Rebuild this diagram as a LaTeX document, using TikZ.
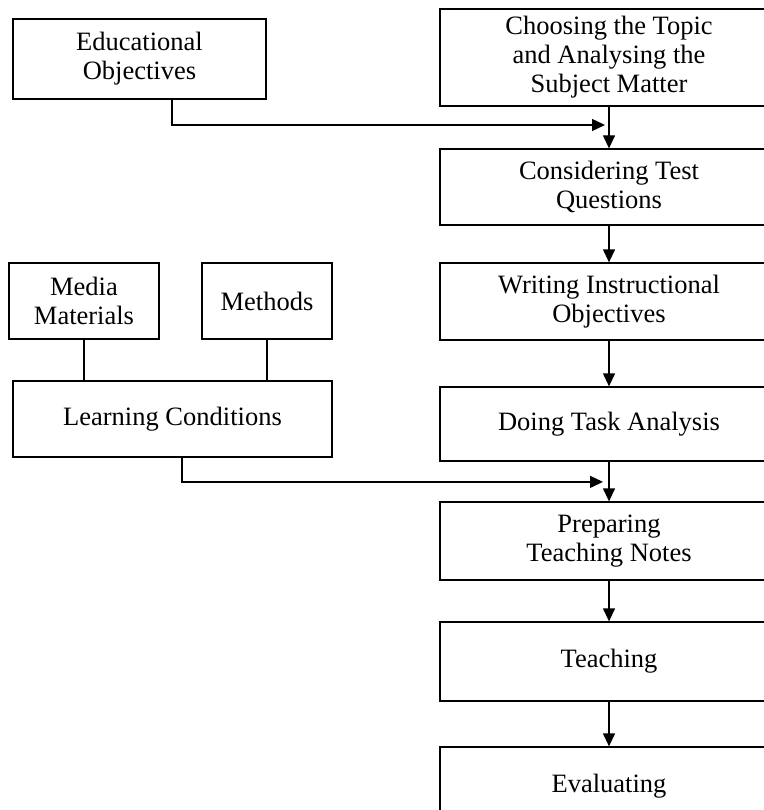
\documentclass[tikz,border=0pt]{standalone}
\usepackage{fontspec}
\setmainfont{Liberation Serif}
\usepackage{tikz}
\usetikzlibrary{arrows.meta,calc}

\begin{document}
\begin{tikzpicture}[x=1pt, y=-1pt,
  box/.style={draw, line width=1.3pt, align=center, inner sep=2pt,
              minimum width=#1, font=\fontsize{26.5}{29}\selectfont},
  box/.default=338pt,
  arr/.style={-{Triangle[length=13pt,width=12pt]}, line width=1.3pt},
  lnk/.style={line width=1.3pt},
]
\useasboundingbox (0,0) rectangle (763,810);
% Main sequence
\node[box, minimum height=97pt] (topic)  at (609,57.5)  {Choosing the Topic\\and Analysing the\\Subject Matter};
\node[box, minimum height=76pt] (test)   at (609,187)   {Considering Test\\Questions};
\node[box, minimum height=77pt] (instr)  at (609,301.5) {Writing Instructional\\Objectives};
\node[box, minimum height=74pt] (task)   at (609,424)   {Doing Task Analysis};
\node[box, minimum height=78pt] (notes)  at (609,541)   {Preparing\\Teaching Notes};
\node[box, minimum height=79pt] (teach)  at (609,661.5) {Teaching};
\node[box, minimum height=78pt] (eval)   at (609,786)   {Evaluating};
% Inputs on the left
\node[box=253pt, minimum height=80pt] (edu)     at (139.5,59)  {Educational\\Objectives};
\node[box=150pt, minimum height=76pt] (media)   at (84,301)    {Media\\Materials};
\node[box=130pt, minimum height=76pt] (methods) at (267,301)   {Methods};
\node[box=319pt, minimum height=76pt] (cond)    at (172.5,419) {Learning Conditions};
% Arrows
\draw[arr] (topic) -- (test);
\draw[arr] (test)  -- (instr);
\draw[arr] (instr) -- (task);
\draw[arr] (task)  -- (notes);
\draw[arr] (notes) -- (teach);
\draw[arr] (teach) -- (eval);
\coordinate (inA) at ([xshift=-4pt]$(topic.south)!0.44!(test.north)$);
\coordinate (inB) at ([xshift=-6pt]$(task.south)!0.51!(notes.north)$);
\draw[arr] ([xshift=32.5pt]edu.south) |- (inA);
\draw[arr] ([xshift=9.5pt]cond.south) |- (inB);
\draw[lnk] (media.south)   -- (media.south |- cond.north);
\draw[lnk] (methods.south) -- (methods.south |- cond.north);
\end{tikzpicture}
\end{document}
